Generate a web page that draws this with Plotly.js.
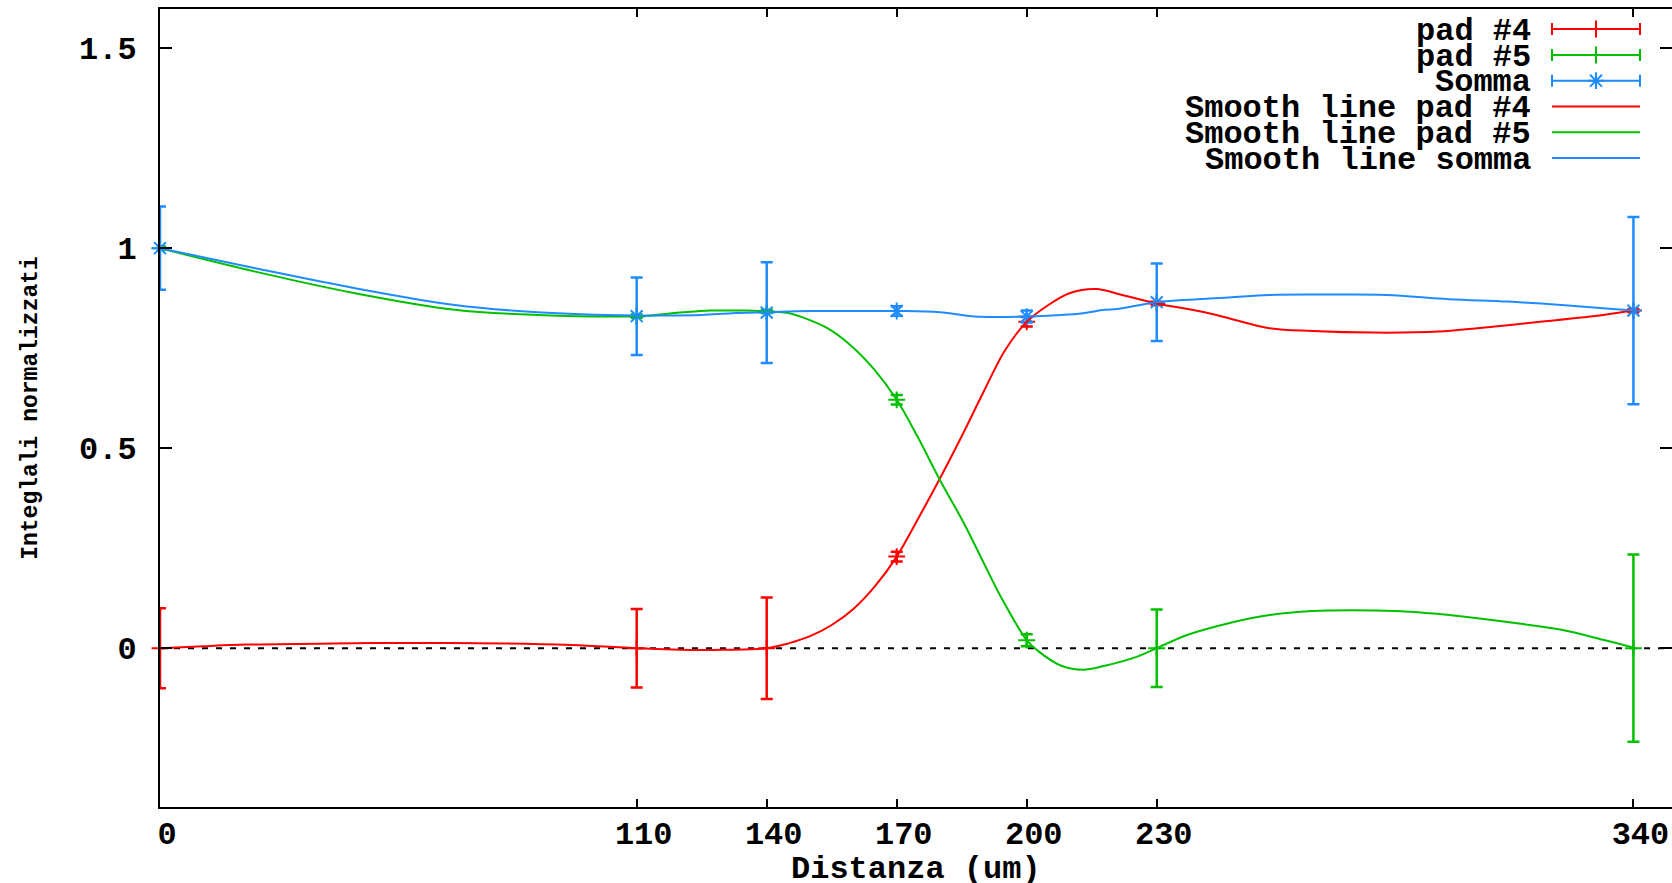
<!DOCTYPE html>
<html>
<head>
<meta charset="utf-8">
<script src="https://cdn.plot.ly/plotly-3.0.1.min.js"></script>
<style>html,body{margin:0;padding:0;background:#fff;}#chart{width:1672px;height:883px;}</style>
</head>
<body>
<div id="chart"></div>
<script>
// ---- data ----
const distanze = [0, 110, 140, 170, 200, 230, 340];
const pad4 = [0, 0, 0, 0.229, 0.816, 0.862, 0.844];
const pad4Err = [0.1, 0.098, 0.127, 0.012, 0.012, 0.004, 0.004];
const pad5 = [1.0, 0.83, 0.842, 0.621, 0.02, 0, 0];
const pad5Err = [0.004, 0.004, 0.004, 0.012, 0.015, 0.097, 0.234];
const somma = [1.0, 0.83, 0.839, 0.843, 0.829, 0.865, 0.844];
const sommaErr = [0.104, 0.097, 0.126, 0.012, 0.015, 0.097, 0.234];

// smooth curves, values
const smooth4X = [0, 10, 20, 40, 60, 80, 95, 110, 120, 130, 140, 145, 150, 155, 160, 165, 170, 175, 180, 185, 190, 195, 200, 205, 210, 216, 222, 230, 242, 256, 266, 280, 295, 304, 319, 333, 340];
const smooth4Y = [0, 0.005, 0.009, 0.012, 0.013, 0.012, 0.008, 0, -0.004, -0.004, 0, 0.012, 0.03, 0.058, 0.098, 0.155, 0.229, 0.325, 0.425, 0.53, 0.64, 0.745, 0.816, 0.858, 0.888, 0.898, 0.883, 0.862, 0.8375, 0.80, 0.793, 0.789, 0.7915, 0.80, 0.8165, 0.833, 0.844];
const smooth5X = [0, 22, 45, 68, 87, 110, 120, 127, 135, 140, 145, 150, 154, 159.4, 164.8, 170, 174.8, 180, 185.5, 190, 194, 200, 202.5, 208, 213, 218, 225.5, 230, 237, 246.6, 256, 266, 275, 285, 294.6, 304, 314, 323.4, 333, 340];
const smooth5Y = [1.0, 0.9415, 0.8875, 0.846, 0.833, 0.83, 0.839, 0.844, 0.844, 0.842, 0.838, 0.82, 0.80, 0.757, 0.697, 0.621, 0.529, 0.42, 0.3125, 0.215, 0.129, 0.02, -0.006, -0.044, -0.054, -0.044, -0.021, 0, 0.033, 0.0625, 0.083, 0.093, 0.095, 0.093, 0.086, 0.075, 0.061, 0.046, 0.021, 0.0015];
const smoothSX = [0, 22, 45, 68, 87, 110, 115, 125, 132, 140, 150, 160, 170, 180, 188, 200, 208, 213, 218, 221, 230, 246.6, 256, 270, 283, 297.5, 311, 323.4, 333, 340];
const smoothSY = [1.0, 0.95, 0.90, 0.858, 0.84, 0.8315, 0.8315, 0.833, 0.8375, 0.840, 0.843, 0.843, 0.843, 0.840, 0.829, 0.829, 0.833, 0.8375, 0.846, 0.848, 0.865, 0.8765, 0.883, 0.884, 0.883, 0.8725, 0.8665, 0.858, 0.85, 0.844];

const xTickVals = [0, 110, 140, 170, 200, 230, 340];
const xTickText = ['0', '110', '140', '170', '200', '230', '340'];
const yTickVals = [0, 0.5, 1, 1.5];
const yTickText = ['0', '0.5', '1', '1.5'];

const seriesNames = ['pad #4', 'pad #5', 'Somma', 'Smooth line pad #4', 'Smooth line pad #5', 'Smooth line somma'];
const xTitle = 'Distanza (um)';
const yTitle = 'Integlali normalizzati';

// ---- styles ----
const RED = '#ff0000', GREEN = '#00c000', BLUE = '#1e8cff';
const FAMILY = '"Liberation Mono", "DejaVu Sans Mono", monospace';
const FONT = {family: FAMILY, size: 32, color: '#000000', weight: 'bold'};
const YTITLE_FONT = {family: FAMILY, size: 23, color: '#000000', weight: 'bold'};

function pts(y, err, color, symbol, size, name) {
  return {
    x: distanze, y: y, name: name, type: 'scatter', mode: 'markers', showlegend: false,
    marker: {symbol: symbol, size: size, color: color, line: {color: color, width: 2}},
    error_y: {type: 'data', array: err, visible: true, color: color, thickness: 2.5, width: 6},
    cliponaxis: false
  };
}
function smooth(x, y, color, name) {
  return {x: x, y: y, name: name, type: 'scatter', mode: 'lines', showlegend: false,
    line: {color: color, width: 2, shape: 'spline', smoothing: 1}};
}

const traces = [
  pts(pad4, pad4Err, RED, 'cross-thin-open', 12, seriesNames[0]),
  pts(pad5, pad5Err, GREEN, 'cross-thin-open', 12, seriesNames[1]),
  pts(somma, sommaErr, BLUE, 'asterisk-open', 14, seriesNames[2]),
  smooth(smooth4X, smooth4Y, RED, seriesNames[3]),
  smooth(smooth5X, smooth5Y, GREEN, seriesNames[4]),
  smooth(smoothSX, smoothSY, BLUE, seriesNames[5])
];

// ---- hand-drawn key (text left, sample right), on a pixel overlay axis ----
const keyRowsY = [31, 57, 82.7, 108.5, 134.3, 160];
const keyColors = [RED, GREEN, BLUE, RED, GREEN, BLUE];
const keyTextX = 1533, keySampleC = 1596, keySampleHalf = 44;
const annotations = [];
seriesNames.forEach((n, i) => {
  annotations.push({xref: 'x2', yref: 'y2', x: keyTextX, y: keyRowsY[i], text: n, showarrow: false,
    xanchor: 'right', yanchor: 'middle', font: FONT});
  if (i < 3) {
    traces.push({x: [keySampleC], y: [keyRowsY[i] - 2], xaxis: 'x2', yaxis: 'y2', type: 'scatter', mode: 'markers',
      showlegend: false, hoverinfo: 'skip',
      marker: {symbol: i === 2 ? 'asterisk-open' : 'cross-thin-open', size: i === 2 ? 14 : 12, color: keyColors[i], line: {color: keyColors[i], width: 2}},
      error_x: {type: 'data', array: [keySampleHalf], visible: true, color: keyColors[i], thickness: 2, width: 6}});
  } else {
    traces.push({x: [keySampleC - keySampleHalf, keySampleC + keySampleHalf], y: [keyRowsY[i] - 2, keyRowsY[i] - 2],
      xaxis: 'x2', yaxis: 'y2', type: 'scatter', mode: 'lines', showlegend: false, hoverinfo: 'skip',
      line: {color: keyColors[i], width: 2}});
  }
});
// x-axis title placed as a centred text below the tick labels
annotations.push({xref: 'paper', yref: 'paper', x: 0.5, y: -0.0777, text: xTitle, showarrow: false,
  xanchor: 'center', yanchor: 'middle', font: FONT});

const layout = {
  width: 1672, height: 883,
  margin: {l: 160, r: 0, t: 9, b: 76, pad: 0},
  paper_bgcolor: '#ffffff', plot_bgcolor: '#ffffff',
  showlegend: false,
  font: FONT,
  xaxis: {
    range: [0, 348.9], autorange: false, tickvals: xTickVals, ticktext: xTickText,
    ticks: 'inside', ticklen: 8, tickwidth: 2, tickcolor: '#000',
    showline: true, linewidth: 2, linecolor: '#000', mirror: 'ticks',
    showgrid: false, zeroline: false, tickfont: FONT, ticklabelshift: 7, ticklabelstandoff: -3,
    automargin: false
  },
  yaxis: {
    range: [-0.397, 1.598], autorange: false, tickvals: yTickVals, ticktext: yTickText,
    ticks: 'inside', ticklen: 12, tickwidth: 2, tickcolor: '#000',
    showline: true, linewidth: 2, linecolor: '#000', mirror: 'ticks',
    showgrid: false, zeroline: false, tickfont: FONT, ticklabelstandoff: 15,
    automargin: false,
    title: {text: yTitle, font: YTITLE_FONT, standoff: 35}
  },
  xaxis2: {overlaying: 'x', range: [160, 1672], autorange: false, visible: false, showgrid: false, zeroline: false},
  yaxis2: {overlaying: 'y', range: [807, 9], autorange: false, visible: false, showgrid: false, zeroline: false},
  shapes: [{type: 'line', xref: 'paper', x0: 0, x1: 1, yref: 'y', y0: 0, y1: 0, layer: 'below',
    line: {color: '#000', width: 2, dash: '6px,8px'}}],
  annotations: annotations
};

Plotly.newPlot('chart', traces, layout, {staticPlot: true, displayModeBar: false});
</script>
</body>
</html>
